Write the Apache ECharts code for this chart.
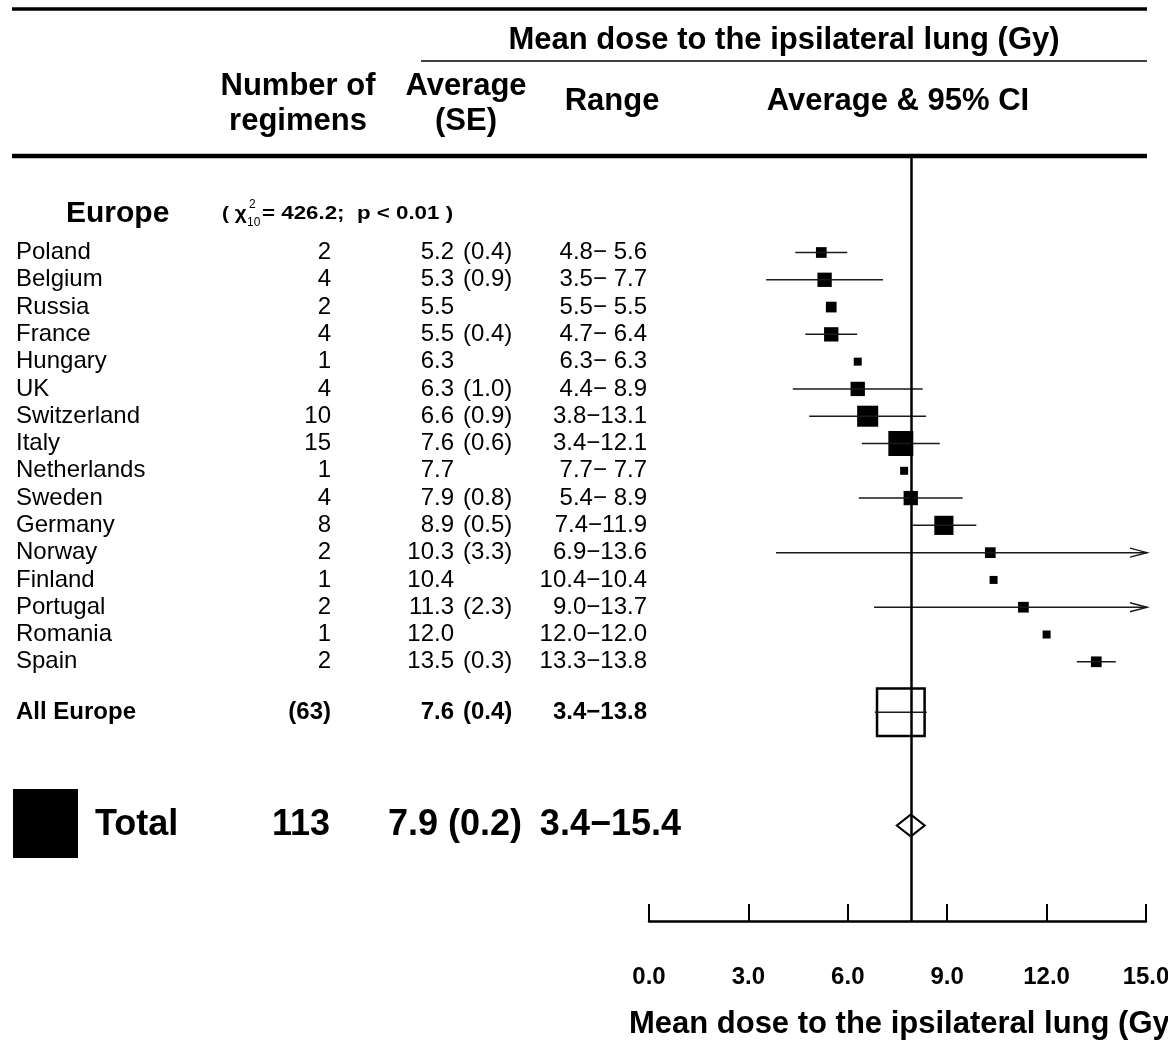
<!DOCTYPE html>
<html>
<head>
<meta charset="utf-8">
<script src="https://cdn.jsdelivr.net/npm/echarts@6/dist/echarts.min.js"></script>
<style>
  html, body { margin: 0; padding: 0; background: #fff; }
  #chart { width: 1168px; height: 1042px; }
</style>
</head>
<body>
<div id="chart"></div>
<script>
// data
const countries = ['Poland', 'Belgium', 'Russia', 'France', 'Hungary', 'UK', 'Switzerland', 'Italy',
  'Netherlands', 'Sweden', 'Germany', 'Norway', 'Finland', 'Portugal', 'Romania', 'Spain'];
const regimens = [2, 4, 2, 4, 1, 4, 10, 15, 1, 4, 8, 2, 1, 2, 1, 2];
const averages = [5.2, 5.3, 5.5, 5.5, 6.3, 6.3, 6.6, 7.6, 7.7, 7.9, 8.9, 10.3, 10.4, 11.3, 12.0, 13.5];
const stdErrors = [0.4, 0.9, null, 0.4, null, 1.0, 0.9, 0.6, null, 0.8, 0.5, 3.3, null, 2.3, null, 0.3];
const rangeLow = [4.8, 3.5, 5.5, 4.7, 6.3, 4.4, 3.8, 3.4, 7.7, 5.4, 7.4, 6.9, 10.4, 9.0, 12.0, 13.3];
const rangeHigh = [5.6, 7.7, 5.5, 6.4, 6.3, 8.9, 13.1, 12.1, 7.7, 8.9, 11.9, 13.6, 10.4, 13.7, 12.0, 13.8];

const europeN = 63, europeAvg = 7.6, europeSe = 0.4;
const europeRange = [3.4, 13.8];
const totalN = 113, totalAvg = 7.9, totalSe = 0.2;
const totalRange = [3.4, 15.4];
const chiSq = 426.2, chiDf = 10, pText = 'p < 0.01';
const xTicks = [0, 3, 6, 9, 12, 15];

// layout rows (y axis units)
const EUROPE_ROW = -1.43, SUMMARY_ROW = 16.85, TOTAL_ROW = 21;
const FONT = '"Liberation Sans", Arial, sans-serif';
const fmt = v => v.toFixed(1);
const rangeText = (lo, hi) => fmt(lo) + '−' + fmt(hi).padStart(4, ' ');
const sqSize = n => 8 * Math.pow(n, 0.42);
const ci = (m, s) => s == null ? null : [m - 1.96 * s, m + 1.96 * s];

const chart = echarts.init(document.getElementById('chart'));

function textSeries(x, pos, items, style) {
  return {
    type: 'scatter', xAxisIndex: 1, yAxisIndex: 1, silent: true,
    symbolSize: 0, z: 5,
    itemStyle: { opacity: 1 },
    data: items.map(it => [x, it[0], it[1]]),
    label: Object.assign({
      show: true, position: pos, distance: 0,
      formatter: p => p.data[2],
      color: '#000', fontFamily: FONT, fontSize: 24
    }, style || {})
  };
}

const rows = countries.map((c, i) => i);
const bold = { fontWeight: 'bold' };
const big = { fontSize: 36, fontWeight: 'bold' };
const head = { fill: '#000', fontFamily: FONT, fontSize: 31, fontWeight: 'bold', align: 'center', verticalAlign: 'middle' };
const note = { fill: '#000', fontFamily: FONT, verticalAlign: 'middle' };

const ciData = [];
rows.forEach(i => {
  const c = ci(averages[i], stdErrors[i]);
  if (c) ciData.push([c[0], c[1], i]);
});
const eCi = ci(europeAvg, europeSe);
ciData.push([eCi[0], eCi[1], SUMMARY_ROW]);

const option = {
  animation: false,
  backgroundColor: '#fff',
  grid: [
    { left: 649, right: 22, top: 157, bottom: 121, outerBoundsMode: 'none', containLabel: false },
    { left: 0, right: 0, top: 157, bottom: 121, outerBoundsMode: 'none', containLabel: false }
  ],
  xAxis: [
    {
      type: 'value', gridIndex: 0, min: xTicks[0], max: xTicks[xTicks.length - 1], interval: 3,
      splitLine: { show: false },
      axisLine: { show: true, onZero: false, lineStyle: { color: '#000', width: 2.5 } },
      axisTick: { show: true, inside: true, length: 17, lineStyle: { color: '#000', width: 2 } },
      axisLabel: { margin: 44, formatter: v => fmt(v), color: '#000', fontFamily: FONT, fontSize: 24, fontWeight: 'bold' },
      name: 'Mean dose to the ipsilateral lung (Gy)',
      nameLocation: 'middle', nameGap: 88,
      nameTextStyle: { color: '#000', fontFamily: FONT, fontSize: 31, fontWeight: 'bold', padding: [0, 0, 0, 14] }
    },
    { type: 'value', gridIndex: 1, min: 0, max: 1168, show: false }
  ],
  yAxis: [
    { type: 'value', gridIndex: 0, inverse: true, min: -3.5, max: 24.5, show: false },
    { type: 'value', gridIndex: 1, inverse: true, min: -3.5, max: 24.5, show: false }
  ],
  graphic: [
    { type: 'line', shape: { x1: 12, y1: 9, x2: 1147, y2: 9 }, style: { stroke: '#000', lineWidth: 3.5 } },
    { type: 'text', x: 784, y: 40, style: Object.assign({ text: 'Mean dose to the ipsilateral lung (Gy)' }, head) },
    { type: 'line', shape: { x1: 421, y1: 61, x2: 1147, y2: 61 }, style: { stroke: '#000', lineWidth: 1.5 } },
    { type: 'text', x: 298, y: 104, style: Object.assign({ text: 'Number of\nregimens', lineHeight: 35 }, head) },
    { type: 'text', x: 466, y: 104, style: Object.assign({ text: 'Average\n(SE)', lineHeight: 35 }, head) },
    { type: 'text', x: 612, y: 101, style: Object.assign({ text: 'Range' }, head) },
    { type: 'text', x: 898, y: 101, style: Object.assign({ text: 'Average & 95% CI' }, head) },
    { type: 'line', shape: { x1: 12, y1: 156, x2: 1147, y2: 156 }, style: { stroke: '#000', lineWidth: 4.5 } },
    // chi-square note
    { type: 'text', x: 222, y: 214, scaleX: 1.15, style: Object.assign({ text: '( χ', fontSize: 18, fontWeight: 'bold' }, note) },
    { type: 'text', x: 249, y: 205, style: Object.assign({ text: '2', fontSize: 12 }, note) },
    { type: 'text', x: 247, y: 223, style: Object.assign({ text: String(chiDf), fontSize: 12 }, note) },
    { type: 'text', x: 262, y: 214, scaleX: 1.24, style: Object.assign({ text: '= ' + fmt(chiSq) + ';  ' + pText + ' )', fontSize: 18, fontWeight: 'bold' }, note) },
    // black key square by Total
    { type: 'rect', shape: { x: 13, y: 789, width: 65, height: 69 }, style: { fill: '#000' } }
  ],
  series: [
    // reference line at overall average
    {
      type: 'line', xAxisIndex: 0, yAxisIndex: 0, data: [], silent: true,
      markLine: {
        silent: true, symbol: 'none', label: { show: false },
        lineStyle: { color: '#000', width: 2.5, type: 'solid' },
        data: [{ xAxis: totalAvg }]
      }
    },
    {
      type: 'scatter', xAxisIndex: 0, yAxisIndex: 0, silent: true, symbol: 'rect',
      data: rows.map(i => [averages[i], i, regimens[i]]),
      symbolSize: v => sqSize(v[2]),
      itemStyle: { color: '#000', opacity: 1 }, z: 3
    },
    {
      type: 'scatter', xAxisIndex: 0, yAxisIndex: 0, silent: true, symbol: 'rect',
      data: [[europeAvg, SUMMARY_ROW, europeN]],
      symbolSize: v => sqSize(v[2]) + 2,
      itemStyle: { color: 'rgba(0,0,0,0)', borderColor: '#000', borderWidth: 2.5, opacity: 1 }, z: 3
    },
    {
      type: 'scatter', xAxisIndex: 0, yAxisIndex: 0, silent: true, symbol: 'diamond',
      data: [[totalAvg, TOTAL_ROW]],
      symbolSize: [28, 22],
      itemStyle: { color: 'rgba(0,0,0,0)', borderColor: '#000', borderWidth: 2, opacity: 1 }, z: 3
    },
    {
      type: 'custom', xAxisIndex: 0, yAxisIndex: 0, silent: true, clip: false, z: 4,
      data: ciData,
      renderItem: (params, api) => {
        const xMax = xTicks[xTicks.length - 1];
        const hi = api.value(1);
        const p0 = api.coord([api.value(0), api.value(2)]);
        const p1 = api.coord([Math.min(hi, xMax), api.value(2)]);
        const st = { stroke: '#1a1a1a', lineWidth: 1.5, fill: null };
        const children = [{ type: 'line', shape: { x1: p0[0], y1: p0[1], x2: p1[0] + (hi > xMax ? 1 : 0), y2: p1[1] }, style: st }];
        if (hi > xMax) {
          const xe = p1[0] + 1;
          children.push({ type: 'polyline', shape: { points: [[xe - 17, p1[1] - 4.5], [xe, p1[1]], [xe - 17, p1[1] + 4.5]] }, style: st });
        }
        return { type: 'group', children };
      }
    },
    // table text
    textSeries(66, 'right', [[EUROPE_ROW, 'Europe']], { fontSize: 30, fontWeight: 'bold' }),
    textSeries(16, 'right', rows.map(i => [i, countries[i]])),
    textSeries(331, 'left', rows.map(i => [i, String(regimens[i])])),
    textSeries(454, 'left', rows.map(i => [i, fmt(averages[i])])),
    textSeries(463, 'right', rows.filter(i => stdErrors[i] != null).map(i => [i, '(' + fmt(stdErrors[i]) + ')'])),
    textSeries(647, 'left', rows.map(i => [i, rangeText(rangeLow[i], rangeHigh[i])])),
    // all-Europe summary
    textSeries(16, 'right', [[SUMMARY_ROW, 'All Europe']], bold),
    textSeries(331, 'left', [[SUMMARY_ROW, '(' + europeN + ')']], bold),
    textSeries(454, 'left', [[SUMMARY_ROW, fmt(europeAvg)]], bold),
    textSeries(463, 'right', [[SUMMARY_ROW, '(' + fmt(europeSe) + ')']], bold),
    textSeries(647, 'left', [[SUMMARY_ROW, rangeText(europeRange[0], europeRange[1])]], bold),
    // total
    textSeries(95, 'right', [[TOTAL_ROW, 'Total']], big),
    textSeries(330, 'left', [[TOTAL_ROW, String(totalN)]], big),
    textSeries(388, 'right', [[TOTAL_ROW, fmt(totalAvg) + ' (' + fmt(totalSe) + ')']], big),
    textSeries(681, 'left', [[TOTAL_ROW, rangeText(totalRange[0], totalRange[1])]], big)
  ]
};

chart.setOption(option);
</script>
</body>
</html>
